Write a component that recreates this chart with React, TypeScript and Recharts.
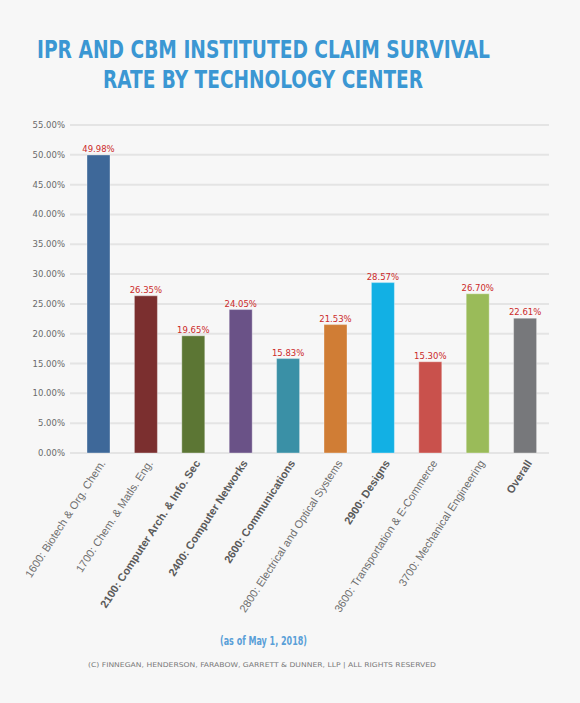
import { BarChart, Bar, XAxis, YAxis, CartesianGrid, LabelList, Cell } from 'recharts'

const centers = [
  '1600: Biotech & Org. Chem.',
  '1700: Chem. & Matls. Eng.',
  '2100: Computer Arch. & Info. Sec',
  '2400: Computer Networks',
  '2600: Communications',
  '2800: Electrical and Optical Systems',
  '2900: Designs',
  '3600: Transportation & E-Commerce',
  '3700: Mechanical Engineering',
  'Overall',
]
const survivalRate = [49.98, 26.35, 19.65, 24.05, 15.83, 21.53, 28.57, 15.3, 26.7, 22.61]
const yTicks = [0, 5, 10, 15, 20, 25, 30, 35, 40, 45, 50, 55]

const barColors = [
  '#3e6899', '#7b2f2f', '#5c7634', '#6a5287', '#3a90a6',
  '#d07d35', '#12b0e4', '#c9514c', '#9abb59', '#77787b',
]
// tick labels that are set in bold in the original
const boldCenters = ['2100', '2400', '2600', '2900', 'Overall']

const data = centers.map((name, i) => ({ name, rate: survivalRate[i] }))

const pct = (v: number) => `${Number(v).toFixed(2)}%`

function CenterTick({ x, y, payload }: any) {
  const label: string = payload.value
  const bold = boldCenters.some(b => label.startsWith(b))
  return (
    <g transform={`translate(${x + 4},${y})`}>
      <text
        transform="rotate(-57)"
        textAnchor="end"
        dy="0.35em"
        fontFamily="'Liberation Sans', Arial, sans-serif"
        fontSize={11}
        fontWeight={bold ? 'bold' : 'normal'}
        fill={bold ? '#5a5a5a' : '#6e6e6e'}
      >
        {label}
      </text>
    </g>
  )
}

export default function App() {
  return (
    <div style={{ position: 'fixed', left: 0, top: 0, width: 580, height: 703, background: '#f7f7f7' }}>
      <BarChart
        width={580}
        height={703}
        data={data}
        margin={{ top: 125, right: 31, left: 0, bottom: 100 }}
      >
        <CartesianGrid vertical={false} stroke="#e4e4e4" strokeWidth={2} />
        <YAxis
          width={70}
          domain={[0, 55]}
          ticks={yTicks}
          tickFormatter={pct}
          axisLine={false}
          tickLine={false}
          tickSize={3}
          tickMargin={2}
          tick={{ fontSize: 8.5, fill: '#6a6a6a', fontFamily: "'DejaVu Sans', Verdana, sans-serif" }}
        />
        <XAxis
          dataKey="name"
          height={150}
          interval={0}
          padding={{ left: 5, right: 0 }}
          axisLine={false}
          tickLine={false}
          tick={<CenterTick />}
        />
        <Bar dataKey="rate" barSize={23} isAnimationActive={false}>
          {data.map((d, i) => (
            <Cell key={d.name} fill={barColors[i]} stroke="rgba(255,255,255,0.35)" strokeWidth={1} />
          ))}
          <LabelList
            dataKey="rate"
            position="top"
            offset={3}
            formatter={pct}
            fill="#cc2a2a"
            fontSize={8.5}
            fontFamily="'DejaVu Sans', Verdana, sans-serif"
          />
        </Bar>
      </BarChart>
      <svg
        width={580}
        height={703}
        style={{ position: 'absolute', left: 0, top: 0, pointerEvents: 'none' }}
      >
        <g fontFamily="'Liberation Sans Narrow', 'DejaVu Sans Condensed', sans-serif" fontWeight="bold" fill="#3b97d3" textAnchor="middle">
          <text x={263.5} y={58} fontSize={25} textLength={453} lengthAdjust="spacingAndGlyphs">
            IPR AND CBM INSTITUTED CLAIM SURVIVAL
          </text>
          <text x={263} y={88} fontSize={25} textLength={320} lengthAdjust="spacingAndGlyphs">
            RATE BY TECHNOLOGY CENTER
          </text>
          <text x={263.5} y={645} fontSize={11.5} fill="#5a9fd8" textLength={87} lengthAdjust="spacingAndGlyphs">
            (as of May 1, 2018)
          </text>
        </g>
        <text
          x={262}
          y={667}
          textAnchor="middle"
          fontFamily="'DejaVu Sans', sans-serif"
          fontSize={6.5}
          fill="#7a7a7a"
          textLength={348}
          lengthAdjust="spacingAndGlyphs"
        >
          (C) FINNEGAN, HENDERSON, FARABOW, GARRETT &amp; DUNNER, LLP | ALL RIGHTS RESERVED
        </text>
      </svg>
    </div>
  )
}
